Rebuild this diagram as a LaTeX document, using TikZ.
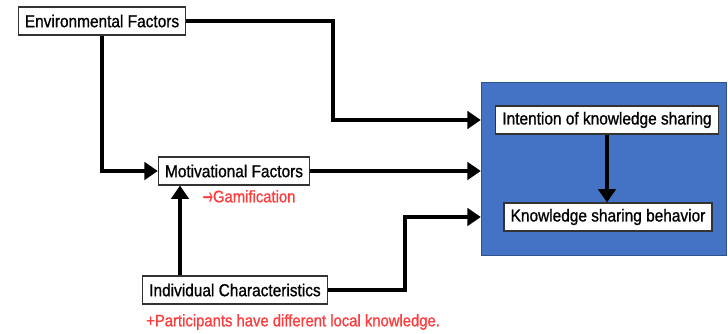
\documentclass[tikz,border=0pt]{standalone}
\usepackage{fontspec}
\setmainfont{Liberation Sans}[FakeStretch=0.89,FakeBold=1]
\newfontfamily\arrowfont{DejaVu Sans}
\usetikzlibrary{arrows.meta}
\definecolor{corefill}{HTML}{4472C4}
\definecolor{coreline}{HTML}{2F528F}
\definecolor{notered}{HTML}{FF3B3B}
\tikzset{
  factor/.style={draw=black!80,fill=white,line width=0.8pt,minimum height=21pt,inner xsep=5pt,font=\fontsize{13pt}{15pt}\selectfont},
  flow/.style={line width=3pt,-{Triangle[length=10pt,width=13pt]}},
  note/.style={text=notered,font=\fontsize{12.5pt}{15pt}\selectfont,inner sep=0pt}
}
\begin{document}
\begin{tikzpicture}[x=0.75pt,y=-0.75pt]
\useasboundingbox (0,0) rectangle (728,334);
\node[draw=coreline,fill=corefill,line width=0.8pt,minimum width=184pt,minimum height=130pt,inner sep=0pt] (core) at (604,169) {};
\node[factor] (env) at (102,21) {Environmental Factors};
\node[factor] (mot) at (234,171) {Motivational Factors};
\node[factor] (ind) at (235,290) {Individual Characteristics};
\node[factor] (int) at (607,120) {Intention of knowledge sharing};
\node[factor] (ksb) at (608,217) {Knowledge sharing behavior};
\node[note] (gam) at (249,198) {\raisebox{-2.6pt}{\scalebox{0.75}[1.5]{\arrowfont →}}Gamification};
\node[note,anchor=west] (loc) at (146,322) {+Participants have different local knowledge.};
\coordinate (turn) at (333,120);
\coordinate (bend) at (405,217);
\coordinate (up) at (180,0);
\draw[flow] (env.east) -| (turn) -- (core.west |- turn);
\draw[flow] (env.south) |- (mot.west);
\draw[flow] (mot.east) -- (core.west |- mot.east);
\draw[flow] (ind.east) -| (bend) -- (core.west |- bend);
\draw[flow] (ind.north -| up) -- (mot.south -| up);
\draw[flow] (int.south) -- (int.south |- ksb.north);
\end{tikzpicture}
\end{document}
